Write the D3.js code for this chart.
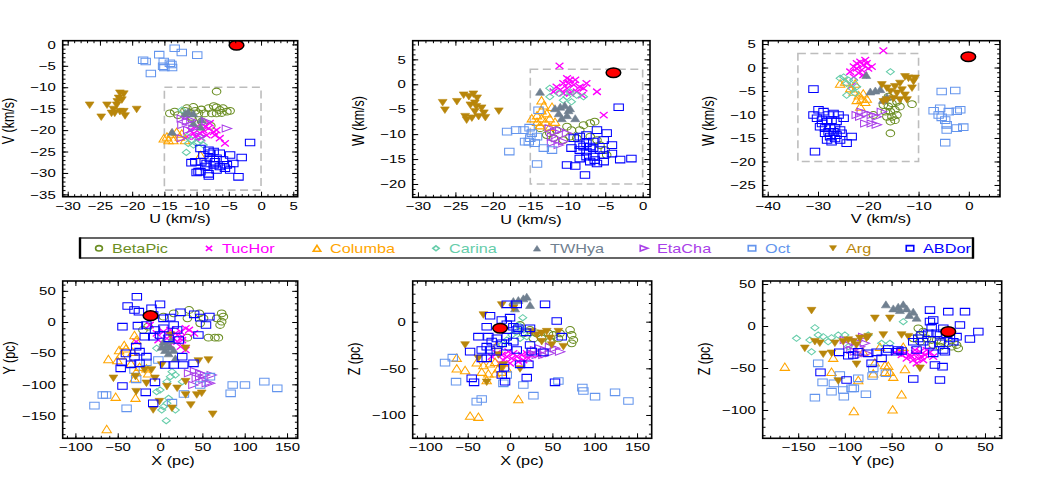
<!DOCTYPE html>
<html><head><meta charset="utf-8">
<script src="https://cdn.jsdelivr.net/npm/d3@7"></script>
<style>body{margin:0;background:#fff;} text{font-family:"Liberation Sans",Arial,Helvetica,sans-serif;}</style>
</head><body>
<svg id="c" width="1044" height="480"></svg>
<script>
// ---------- groups ----------
const groups = ["BetaPic","TucHor","Columba","Carina","TWHya","EtaCha","Oct","Arg","ABDor"];
const groupColors = ["#6b8e23","#ff00ff","#ffa500","#66cdaa","#708090","#a940e8","#6495ed","#b8860b","#0000ff"];
const groupShapes = ["circle","cross","triUp","diamond","triUpFill","triRight","square","triDownFill","square"];

// ---------- U,V (km/s) ----------
const uvData = {
 BetaPic:[[-6.9,-11.0],[-14.15,-16.1],[-13.4,-15.7],[-11.8,-15.5],[-11.0,-16.0],[-10.2,-15.5],[-9.25,-15.2],[-8.15,-14.9],[-7.35,-14.4],[-6.9,-14.7],[-6.4,-15.3],[-5.9,-14.9],[-7.65,-16.1],[-6.9,-16.1],[-6.1,-16.0],[-5.3,-15.7],[-4.8,-15.5],[-10.8,-16.9],[-8.75,-16.1],[-9.7,-16.1],[-12.9,-16.5],[-11.5,-14.9],[-10.5,-14.6],[-9.2,-18.0],[-7.8,-19.0],[-10.7,-17.5]],
 TucHor:[[-8.95,-20.0],[-8.15,-19.6],[-7.35,-20.4],[-9.4,-20.8],[-8.45,-21.2],[-6.9,-20.0],[-10.0,-19.2],[-10.5,-20.8],[-11.0,-20.0],[-7.95,-18.4],[-11.5,-21.5],[-6.4,-21.9],[-5.6,-23.1],[-9.25,-21.9],[-7.15,-21.2],[-10.2,-21.5],[-8.65,-19.2]],
 Columba:[[-14.6,-21.5],[-13.9,-20.8],[-13.1,-20.4],[-14.35,-22.3],[-13.6,-22.3],[-12.6,-21.5],[-12.3,-20.8],[-15.1,-21.9],[-11.8,-22.3],[-9.4,-25.8]],
 Carina:[[-11.5,-21.5],[-10.8,-22.3],[-10.0,-23.1],[-9.4,-22.3],[-10.5,-23.5],[-11.3,-23.1],[-8.95,-23.5],[-12.3,-15.3],[-11.6,-25.2]],
 TWHya:[[-10.5,-16.1],[-9.25,-17.5],[-9.4,-19.2],[-11.8,-16.1],[-13.8,-20.4],[-11.3,-15.7],[-10.5,-18.4]],
 EtaCha:[[-12.3,-17.3],[-11.5,-18.0],[-10.8,-17.7],[-12.2,-18.8],[-11.3,-20.0],[-10.5,-19.6],[-9.4,-21.5],[-5.3,-19.6],[-8.45,-18.0],[-12.3,-21.9]],
 Oct:[[-13.4,-0.9],[-12.3,-1.9],[-15.8,-2.4],[-9.9,-2.5],[-18.3,-3.7],[-17.9,-4.0],[-15.1,-4.0],[-14.15,-4.4],[-15.2,-5.1],[-13.9,-4.7],[-15.0,-5.4],[-13.8,-5.4],[-17.1,-6.8]],
 Arg:[[-26.6,-14.2],[-23.9,-14.2],[-21.9,-11.4],[-21.3,-11.6],[-22.1,-12.6],[-22.3,-13.4],[-22.4,-14.2],[-23.2,-16.1],[-22.7,-16.1],[-21.9,-15.7],[-21.3,-15.7],[-21.1,-16.7],[-24.8,-17.0],[-19.3,-15.2],[-22.9,-15.2],[-21.6,-13.0]],
 ABDor:[[-9.4,-24.3],[-8.15,-24.7],[-7.35,-25.0],[-6.4,-25.4],[-4.8,-25.8],[-3.0,-26.4],[-8.95,-25.8],[-7.95,-26.6],[-6.9,-26.6],[-5.9,-27.0],[-4.3,-27.8],[-10.2,-27.4],[-9.25,-27.4],[-8.45,-27.8],[-7.35,-28.1],[-6.4,-28.5],[-5.3,-28.1],[-9.4,-29.7],[-8.15,-30.2],[-6.9,-29.3],[-5.6,-28.9],[-4.8,-29.3],[-3.5,-30.9],[-1.7,-22.9],[-10.8,-27.6],[-9.7,-29.7],[-7.95,-25.4],[-7.15,-27.4],[-8.65,-28.5],[-10.0,-29.9],[-8.1,-30.7]]
};
const sunUV = [-3.8,-0.2];

// ---------- U,W (km/s) ----------
const uwData = {
 BetaPic:[[-13.7,-8.8],[-12.4,-9.8],[-11.5,-9.2],[-10.1,-8.5],[-9.5,-9.2],[-8.4,-9.2],[-7.9,-8.2],[-7.0,-7.8],[-6.4,-7.5],[-9.7,-10.5],[-8.8,-10.8],[-7.0,-10.5],[-6.1,-11.2],[-5.7,-12.2],[-5.0,-13.2],[-4.8,-14.2],[-10.6,-11.2],[-11.9,-10.8],[-12.8,-10.2]],
 TucHor:[[-11.1,3.7],[-10.1,1.2],[-9.7,0.9],[-10.6,0.2],[-9.2,-0.1],[-8.4,-0.5],[-7.9,-0.8],[-10.1,-0.8],[-11.0,-1.1],[-11.5,-0.5],[-7.5,0.2],[-8.8,-1.5],[-9.7,-1.8],[-10.6,-1.8],[-6.1,-1.5],[-9.9,0.2],[-9.0,0.9],[-5.2,-6.2],[-11.9,-1.5],[-8.1,-2.2]],
 Columba:[[-13.5,-3.2],[-13.2,-4.2],[-13.5,-5.2],[-14.1,-6.2],[-13.5,-6.8],[-14.8,-6.8],[-14.1,-7.5],[-13.0,-7.5],[-12.4,-6.8],[-12.4,-8.5],[-12.8,-5.8],[-12.1,-4.5],[-13.7,-8.2],[-11.7,-7.5]],
 Carina:[[-12.4,-0.8],[-11.2,-1.8],[-10.1,-2.5],[-8.8,-2.2],[-7.9,-2.5],[-10.6,-3.2],[-9.5,-3.5],[-12.4,-2.5],[-9.7,-1.5]],
 TWHya:[[-13.7,-1.5],[-11.7,-4.8],[-11.0,-4.5],[-10.4,-4.2],[-9.9,-5.2],[-11.2,-5.8],[-10.1,-6.2],[-9.0,-6.8],[-10.8,-6.8],[-9.7,-4.8]],
 EtaCha:[[-12.4,-8.8],[-11.7,-9.5],[-11.0,-9.2],[-12.1,-10.5],[-11.5,-10.8],[-12.1,-11.8],[-11.2,-12.2],[-10.6,-11.5],[-10.1,-9.8]],
 Oct:[[-18.1,-9.5],[-16.9,-9.2],[-15.9,-9.2],[-15.1,-8.7],[-14.8,-9.8],[-15.0,-10.8],[-14.1,-10.5],[-15.7,-11.5],[-13.2,-12.8],[-12.1,-13.2],[-14.4,-11.8],[-17.8,-13.5],[-14.1,-16.0],[-13.9,-5.2],[-15.2,-11.5]],
 Arg:[[-26.7,-3.7],[-26.4,-5.2],[-24.8,-3.5],[-23.9,-2.2],[-23.2,-2.5],[-22.6,-2.0],[-22.1,-2.8],[-22.4,-3.8],[-23.0,-4.2],[-22.2,-4.5],[-21.5,-4.8],[-21.2,-5.8],[-21.9,-6.5],[-22.8,-6.8],[-23.5,-7.2],[-23.7,-6.5],[-21.0,-6.7],[-22.4,-5.5],[-19.2,-5.4]],
 ABDor:[[-9.2,-10.8],[-8.4,-10.5],[-7.5,-10.2],[-6.1,-9.2],[-4.8,-9.8],[-8.4,-12.2],[-7.5,-11.8],[-6.6,-11.5],[-5.2,-11.2],[-9.5,-12.8],[-8.4,-13.2],[-7.5,-13.5],[-6.6,-12.8],[-5.7,-13.2],[-4.1,-12.2],[-7.5,-14.5],[-6.6,-14.5],[-5.2,-14.2],[-4.1,-13.9],[-8.4,-14.9],[-10.1,-16.2],[-9.0,-16.4],[-7.0,-15.5],[-6.1,-15.9],[-5.2,-15.5],[-7.7,-18.2],[-3.0,-15.1],[-1.5,-14.9],[-3.2,-4.6],[-7.9,-12.5],[-7.0,-12.5],[-6.4,-15.2]]
};
const sunUW = [-3.9,2.3];

// ---------- V,W (km/s) ----------
const vwData = {
 BetaPic:[[-17.0,-8.0],[-16.0,-8.3],[-15.3,-7.6],[-14.3,-7.3],[-16.6,-9.4],[-15.6,-9.4],[-14.7,-9.0],[-16.3,-10.5],[-15.3,-10.5],[-14.3,-10.1],[-15.6,-11.5],[-14.7,-11.2],[-11.3,-7.8],[-15.6,-14.0],[-19.0,-10.1],[-13.7,-8.3],[-16.0,-6.2]],
 TucHor:[[-17.0,3.6],[-22.3,0.9],[-21.6,1.2],[-21.0,0.5],[-20.3,0.9],[-22.3,-0.2],[-21.3,-0.5],[-20.0,-0.2],[-22.9,0.2],[-20.6,1.6],[-19.3,0.2],[-21.9,-1.2],[-21.0,-1.6],[-23.6,-0.9],[-22.9,-2.0],[-23.3,-3.9]],
 Columba:[[-25.6,-3.4],[-24.6,-3.0],[-23.6,-4.4],[-22.9,-5.1],[-21.9,-5.9],[-21.3,-6.6],[-22.3,-6.9],[-20.6,-7.3],[-21.6,-8.3],[-22.6,-3.4],[-21.0,-5.5],[-20.3,-6.6]],
 Carina:[[-25.6,-2.3],[-24.9,-2.0],[-23.9,-2.7],[-24.3,-3.4],[-23.3,-4.4],[-22.3,-4.1],[-22.6,-5.5],[-24.3,-5.9],[-15.6,-0.9],[-22.9,-2.7]],
 TWHya:[[-20.4,-1.6],[-19.6,-5.1],[-18.6,-4.9],[-17.6,-4.6],[-17.1,-6.9],[-16.3,-6.2]],
 EtaCha:[[-22.3,-10.1],[-21.3,-9.4],[-20.3,-9.8],[-19.3,-10.1],[-18.3,-10.5],[-17.3,-9.4],[-19.3,-11.9],[-18.3,-12.2],[-20.6,-11.9],[-21.6,-10.5]],
 Oct:[[-5.4,-5.1],[-2.7,-4.9],[-7.0,-9.2],[-5.7,-8.7],[-4.0,-9.4],[-2.4,-9.3],[-6.0,-10.1],[-4.7,-11.2],[-4.4,-12.2],[-2.4,-12.9],[-1.1,-12.7],[-4.4,-13.3],[-4.7,-16.0],[-5.4,-10.6],[-1.7,-9.0]],
 Arg:[[-17.3,-3.7],[-16.3,-4.4],[-15.6,-5.1],[-14.7,-4.1],[-13.7,-3.4],[-12.7,-2.0],[-12.0,-2.3],[-11.0,-3.0],[-11.3,-4.4],[-13.3,-4.8],[-12.7,-5.9],[-13.7,-6.9],[-16.3,-6.9],[-15.0,-6.6],[-12.3,-6.9],[-14.3,-5.5],[-10.7,-2.3],[-17.0,-7.3]],
 ABDor:[[-30.9,-4.6],[-30.6,-17.9],[-30.9,-10.1],[-29.9,-9.0],[-28.9,-9.4],[-27.9,-10.1],[-26.9,-9.8],[-25.9,-10.1],[-24.9,-10.8],[-30.2,-10.8],[-29.2,-11.2],[-28.2,-11.5],[-27.3,-11.2],[-26.3,-11.5],[-29.6,-12.6],[-28.6,-12.9],[-27.6,-12.6],[-26.6,-12.9],[-25.6,-13.3],[-28.6,-14.0],[-27.6,-14.7],[-26.6,-15.1],[-25.6,-15.4],[-28.2,-15.4],[-27.3,-15.8],[-24.3,-16.1],[-23.3,-14.7],[-29.2,-11.9],[-27.9,-13.7],[-26.9,-13.7],[-26.3,-14.4],[-25.3,-14.0]]
};
const sunVW = [-0.1,2.3];

// ---------- X,Y (pc) ----------
const xyData = {
 BetaPic:[[34.3,19.3],[46.4,13.9],[51.4,5.9],[66.9,5.9],[72.8,13.9],[74.8,8.6],[72.8,0.5],[70.9,-4.8],[57.1,-25.1],[64.9,-25.1],[68.9,-25.1],[32.3,-25.1],[4.0,8.6],[16.1,13.9],[47.4,-2.1],[32.3,5.9],[-14.1,-7.5],[-20.2,-12.8]],
 TucHor:[[-28.2,-31.6],[-4.0,-18.2],[4.0,-15.5],[12.1,-12.8],[18.1,-18.2],[24.2,-15.5],[30.2,-10.2],[34.3,-12.8],[16.1,-26.2],[26.2,-23.5],[8.1,-26.2],[20.2,-31.6],[30.2,-44.9],[24.2,-39.6],[-2.0,-28.9],[-12.1,-4.8],[40.3,-18.2],[12.1,-36.9],[26.2,-28.9]],
 Columba:[[-30.2,-20.9],[-28.2,-28.9],[-42.3,-36.9],[-48.4,-44.9],[-46.4,-52.9],[-40.3,-42.2],[-32.3,-47.6],[-61.0,-59.4],[-50.4,-61.0],[-34.3,-66.3],[-28.2,-79.7],[-30.2,-90.4],[-14.1,-82.4],[-52.4,-119.8],[-29.0,-121.4],[-63.0,-171.7],[-24.2,-71.7],[-16.1,-74.3]],
 Carina:[[-4.0,-42.2],[14.1,-79.7],[18.1,-85.0],[12.1,-87.7],[8.1,-95.7],[0,-109.1],[10.1,-122.5],[8.1,-130.5],[4.0,-135.8],[2.0,-141.2],[18.1,-141.2],[7.3,-158.3],[-4.0,-111.8],[26.2,-95.7]],
 TWHya:[[4.0,-31.6],[8.1,-36.9],[12.1,-39.6],[6.0,-44.9],[10.1,-50.3],[16.1,-44.9],[2.0,-39.6],[18.1,-58.3],[12.9,-28.9]],
 EtaCha:[[34.3,-82.4],[41.3,-78.6],[47.4,-82.4],[53.1,-85.0],[43.4,-90.4],[51.4,-93.0],[55.2,-98.4],[59.0,-98.4],[39.4,-101.1],[47.4,-87.7],[61.0,-85.0]],
 Oct:[[-77.5,-134.2],[-67.7,-117.1],[-63.7,-117.1],[-39.5,-138.5],[-2.0,-61.0],[14.1,-129.4],[28.2,-115.5],[47.4,-101.1],[59.0,-87.7],[85.8,-101.1],[100.3,-101.1],[123.2,-95.7],[138.5,-106.4],[83.4,-114.4],[-30.2,-77.0],[-28.2,-92.0],[-16.1,-64.7]],
 Arg:[[-55.1,-90.4],[-29.0,-87.7],[-18.1,-77.0],[-10.1,-77.0],[2.0,-69.0],[8.1,-103.7],[20.2,-106.4],[30.2,-95.7],[45.3,-62.6],[57.1,-61.0],[30.2,-117.1],[43.4,-117.1],[49.2,-114.4],[36.3,-133.2],[14.1,-138.5],[-8.1,-141.2],[-28.2,-111.8],[-0.8,-127.8],[62.2,-148.1],[30.2,-42.2],[12.1,-20.9],[-16.1,-98.4],[-6.0,-90.4]],
 ABDor:[[-27.4,40.6],[-38.3,25.7],[-30.2,19.3],[-25.0,16.6],[-10.1,21.9],[0,28.3],[-8.1,11.2],[4.0,5.9],[12.1,7.0],[24.2,15.5],[40.3,12.3],[47.4,7.0],[58.3,8.6],[54.3,-4.8],[45.3,-20.9],[-44.4,-7.5],[-26.2,-5.9],[-16.1,-4.8],[-6.0,-12.8],[4.0,-10.2],[16.1,-4.8],[20.2,-12.8],[-8.1,-23.5],[0,-20.9],[10.1,-26.2],[22.2,-28.9],[-28.2,-39.6],[-40.3,-50.3],[-30.2,-55.6],[-16.1,-55.6],[-24.2,-66.3],[-34.3,-67.9],[-45.3,-64.7],[-46.5,-74.3],[6.0,-69.0],[16.1,-69.0],[27.4,-69.0],[39.5,-66.3],[-44.4,-102.7],[-16.9,-112.8],[-6.0,-96.8],[-8.1,-130.5],[26.2,-55.6],[-24.2,-47.6],[-18.1,-23.5]]
};
const sunXY = [-11.3,10.2];

// ---------- X,Z (pc) ----------
const xzData = {
 BetaPic:[[23.6,-8.9],[31.5,-12.5],[37.4,-17.9],[45.3,-12.5],[51.2,-14.3],[59.1,-12.5],[70.9,-8.9],[72.8,-14.3],[74.8,-19.6],[72.8,-23.2],[57.1,-17.9],[47.2,-21.4],[27.6,-17.9],[15.7,-12.5],[11.8,-3.6]],
 TucHor:[[-15.7,-33.9],[-9.8,-35.7],[-3.9,-37.5],[2.0,-39.3],[7.9,-37.5],[13.8,-35.7],[19.7,-33.9],[25.6,-35.7],[3.9,-33.9],[9.8,-42.9],[0,-44.6],[15.7,-41.1],[-7.9,-41.1],[-11.8,-44.6],[21.7,-39.3],[-2.0,-32.1],[-21.7,-37.5],[33.5,-35.7]],
 Columba:[[-63.0,-38.6],[-63.0,-50.0],[-53.1,-51.8],[-39.4,-43.6],[-31.5,-46.4],[-23.6,-44.6],[-17.7,-42.9],[-13.8,-50.0],[-33.5,-53.6],[-25.6,-55.4],[-17.7,-55.4],[-9.8,-53.6],[-3.9,-50.0],[-27.6,-62.5],[-47.2,-100.7],[-37.4,-101.8],[9.8,-82.9],[-15.7,-25.0]],
 Carina:[[15.0,4.3],[9.8,-3.6],[7.9,-10.7],[15.7,-8.9],[2.0,-14.3],[-3.9,-19.6],[-9.8,-25.0],[11.8,-17.9],[19.7,-16.1]],
 TWHya:[[3.9,22.1],[9.8,23.2],[15.7,25.0],[19.7,26.8],[5.9,14.3],[23.6,17.9]],
 EtaCha:[[29.5,-30.4],[35.4,-28.6],[41.3,-30.4],[47.2,-26.8],[53.1,-28.6],[59.1,-32.1],[39.4,-35.7],[31.5,-35.7],[47.2,-33.9],[25.6,-33.9]],
 Oct:[[-76.8,-43.9],[-67.7,-38.6],[-63.8,-64.3],[-39.4,-85.7],[-33.5,-82.9],[-3.9,-57.1],[-7.9,-66.1],[15.7,-67.9],[27.6,-79.3],[57.1,-63.6],[85.4,-70.7],[86.6,-74.3],[100.4,-80.4],[124.0,-75.7],[139.8,-85.0]],
 Arg:[[-9.8,17.9],[3.9,14.3],[-31.5,7.1],[25.6,-10.7],[31.5,-14.3],[37.4,-12.5],[43.3,-10.7],[57.1,-10.7],[47.2,-17.9],[63.0,-26.8],[-53.1,-25.0],[-37.4,-39.3],[-13.8,-35.7],[-7.9,-46.4],[11.8,-50.7],[-27.6,-65.0],[-9.8,-50.0],[37.4,-21.4],[49.2,-25.0]],
 ABDor:[[-3.9,18.6],[7.9,18.6],[41.3,18.6],[-23.6,6.4],[-9.8,1.8],[0,4.3],[-3.9,-2.9],[3.9,-5.4],[9.8,-7.1],[-27.6,-5.4],[-37.4,-16.1],[-25.6,-16.1],[-15.7,-17.9],[-3.9,-16.1],[7.9,-8.9],[18.9,-11.4],[23.6,-7.1],[55.1,0.7],[61.0,-16.1],[23.6,-25.0],[3.9,-21.4],[-3.9,-26.8],[-27.6,-26.8],[-33.5,-30.4],[-23.6,-30.4],[-47.2,-32.1],[-15.7,-32.1],[7.9,-30.4],[25.6,-32.1],[39.4,-32.9],[11.8,-45.7],[21.7,-45.7],[-7.1,-49.3],[-9.8,-57.1],[-5.9,-64.3],[19.7,-60.0],[-45.3,-60.7],[-42.5,-65.0],[53.1,-65.0],[-33.5,-39.3],[-27.6,-39.3],[-9.8,-23.2],[-21.7,-21.4]]
};
const sunXZ = [-11.8,-7.1];

// ---------- Y,Z (pc) ----------
const yzData = {
 BetaPic:[[-21.4,-2.8],[-19.6,-10.7],[-16.1,-6.7],[-12.5,-14.7],[-7.1,-16.7],[-1.8,-16.7],[3.6,-18.7],[10.7,-20.6],[19.6,-22.6],[21.4,-26.6],[-19.6,-18.7],[-26.8,-14.7],[-5.4,-22.6],[14.3,-24.6],[1.8,-24.6]],
 TucHor:[[-41.1,-30.6],[-35.7,-32.5],[-30.4,-34.5],[-25.0,-32.5],[-19.6,-30.6],[-14.3,-34.5],[-8.9,-31.3],[-33.9,-38.5],[-26.8,-40.5],[-21.4,-38.5],[-16.1,-40.5],[-23.2,-44.4],[-28.6,-36.5],[-17.9,-36.5],[-39.3,-34.5],[-25.0,-28.6],[-5.4,-36.5],[-12.5,-28.6],[-46.4,-31.3]],
 Columba:[[-164.3,-48.4],[-114.3,-54.4],[-112.5,-37.7],[-85.7,-64.3],[-67.9,-43.3],[-69.6,-56.3],[-57.1,-46.4],[-53.6,-47.2],[-51.8,-54.4],[-48.2,-60.3],[-35.7,-51.2],[-39.3,-81.3],[-48.9,-99.2],[-90.4,-101.2],[-62.5,-24.6],[-80.4,-30.6],[-37.5,-24.6],[-57.1,-54.4]],
 Carina:[[-151.8,-14.7],[-132.1,-2.0],[-137.5,-16.7],[-135.7,-30.6],[-128.6,-10.7],[-123.2,-12.7],[-114.3,-13.9],[-107.1,-10.7],[-100.0,-10.7],[-96.4,-24.6],[-75.0,-10.7],[-60.7,-20.6],[-51.8,-20.6],[-37.5,5.2],[-117.9,-18.7]],
 TWHya:[[-56.1,25.8],[-48.2,21.0],[-42.9,23.0],[-37.5,25.8],[-33.9,21.0],[-31.1,13.1],[-23.2,9.9],[-41.1,19.0],[-26.8,17.1]],
 EtaCha:[[-100.0,-16.7],[-96.4,-22.6],[-92.9,-28.6],[-87.5,-18.7],[-83.9,-24.6],[-80.4,-12.7],[-83.9,-34.5],[-76.8,-32.5],[-78.6,-20.6],[-89.3,-30.6]],
 Oct:[[-132.1,-85.3],[-128.6,-44.4],[-123.9,-67.1],[-111.8,-68.3],[-114.3,-78.2],[-101.8,-76.2],[-101.1,-84.1],[-92.9,-74.2],[-90.4,-74.2],[-85.7,-62.3],[-77.5,-81.3],[-70.4,-59.5],[-56.1,-56.3],[-69.6,-50.4],[-105.4,-58.3]],
 Arg:[[-135.7,18.3],[-132.1,-18.7],[-126.8,-20.6],[-142.9,-26.6],[-123.2,-33.7],[-114.3,-32.5],[-110.7,-20.6],[-101.8,-18.7],[-96.4,-16.7],[-91.1,-18.7],[-83.9,-14.7],[-75.0,-12.7],[-67.9,9.1],[-58.9,-10.7],[-51.8,9.1],[-39.3,-10.7],[-32.1,-12.7],[-87.5,-45.6],[-107.1,-65.5],[-19.6,-50.4],[-76.8,-14.7],[-87.5,-22.6]],
 ABDor:[[-126.1,-55.2],[-106.1,-31.3],[-98.2,-64.3],[-96.4,-35.3],[-91.1,-34.5],[-85.7,-30.6],[-75.0,-32.5],[-66.1,-31.3],[-60.7,-38.5],[-55.4,-30.6],[-53.6,-27.4],[-44.6,-30.6],[-42.9,-28.6],[-39.3,-29.8],[-26.8,-63.1],[-23.2,-28.6],[-17.9,-10.7],[-16.1,-18.7],[-10.7,-8.7],[-8.9,5.2],[-5.4,7.1],[-7.1,-2.0],[-1.8,-8.7],[1.8,-10.7],[5.4,-2.8],[8.9,-9.9],[10.7,17.1],[12.5,-14.7],[16.1,-18.7],[19.6,-12.7],[23.2,1.2],[28.6,17.1],[33.9,-15.5],[42.9,-6.7],[-5.4,-32.5],[-3.6,-46.4],[4.6,-48.4],[1.8,-64.3],[5.4,-28.6],[-8.9,-22.6],[-21.4,-14.7],[-26.8,-18.7],[1.8,-20.6],[7.1,-30.6],[-71.4,-44.4],[-8.9,19.0]]
};
const sunYZ = [10.7,-6.7];

// ---------- axis titles ----------
const xTitles = ["U (km/s)","U (km/s)","V (km/s)","X (pc)","X (pc)","Y (pc)"];
const yTitles = ["V (km/s)","W (km/s)","W (km/s)","Y (pc)","Z (pc)","Z (pc)"];

// ---------- layout ----------
const SX = 1.3; // horizontal stretch of the original rendering
const panels = [
 {data:uvData, sun:sunUV, x0:62.7,x1:297.7,y0:40.7,y1:196.7, xd:[-30.78,5.69], yd:[0.86,-35.54], xs:5,xm:1, ys:5,ym:1, box:[-15,0,-10,-34], xtx:180, ytx:14, yty:121},
 {data:uwData, sun:sunUW, x0:412.7,x1:650,y0:40.7,y1:197.3, xd:[-30.7,0.98], yd:[8.74,-22.67], xs:5,xm:1, ys:5,ym:1, box:[-15,0,3,-20], xtx:531, ytx:364, yty:121},
 {data:vwData, sun:sunVW, x0:762.7,x1:1000,y0:40.7,y1:196.7, xd:[-41.0,6.2], yd:[5.71,-27.5], xs:10,xm:2, ys:5,ym:1, box:[-34,-10,3,-20], xtx:881, ytx:714, yty:121},
 {data:xyData, sun:sunXY, x0:62.7,x1:297.7,y0:281,y1:438.3, xd:[-115,162.6], yd:[65.8,-186.6], xs:50,xm:10, ys:50,ym:10, box:null, xtx:173, ytx:14.5, yty:358},
 {data:xzData, sun:sunXZ, x0:412.7,x1:651.7,y0:281,y1:438.3, xd:[-115,167.3], yd:[43.6,-125], xs:50,xm:10, ys:50,ym:10, box:null, xtx:522, ytx:360, yty:359},
 {data:yzData, sun:sunYZ, x0:762.7,x1:1001.7,y0:281,y1:438.3, xd:[-188,67.9], yd:[53.6,-133.7], xs:50,xm:10, ys:50,ym:10, box:null, xtx:873, ytx:710, yty:359}
];

const svg = d3.select("#c");

function shapePath(type, sx, sy){
  switch(type){
    case "circle": return `M${-sx},0A${sx},${sy} 0 1,0 ${sx},0A${sx},${sy} 0 1,0 ${-sx},0Z`;
    case "cross": return `M${-sx},${-sy}L${sx},${sy}M${-sx},${sy}L${sx},${-sy}`;
    case "triUp": case "triUpFill": return `M0,${-sy}L${sx},${sy}L${-sx},${sy}Z`;
    case "diamond": return `M0,${-sy}L${sx},0L0,${sy}L${-sx},0Z`;
    case "triRight": return `M${sx},0L${-sx},${-sy}L${-sx},${sy}Z`;
    case "square": return `M${-sx},${-sy}H${sx}V${sy}H${-sx}Z`;
    case "triDownFill": return `M0,${sy}L${sx},${-sy}L${-sx},${-sy}Z`;
  }
}
const shapeSize = {circle:[4.3,3.4],cross:[3.9,3.1],triUp:[4.7,3.7],diamond:[4.0,3.1],triUpFill:[4.5,3.5],triRight:[4.7,3.5],square:[4.7,3.3],triDownFill:[4.4,3.3]};
function styleMarker(sel, i, k){
  const t = groupShapes[i], c = groupColors[i];
  const filled = t==="triUpFill"||t==="triDownFill";
  const [sx,sy] = shapeSize[t];
  sel.attr("d", shapePath(t, sx*k, sy*k))
     .attr("fill", filled? c : "none")
     .attr("stroke", c)
     .attr("stroke-width", filled? 0.6 : (t==="cross"?1.35:1.05))
     .attr("stroke-linejoin","miter");
}

function stepTicks(d, step){
  const lo = Math.min(d[0],d[1]), hi = Math.max(d[0],d[1]);
  return d3.range(Math.ceil(lo/step-1e-9)*step, hi+1e-9, step).map(v=>+v.toFixed(6));
}

panels.forEach((p, pi)=>{
  const x = d3.scaleLinear().domain(p.xd).range([p.x0,p.x1]);
  const y = d3.scaleLinear().domain(p.yd).range([p.y0,p.y1]);
  const g = svg.append("g");
  const cid = "clip"+pi;
  g.append("clipPath").attr("id",cid).append("rect")
    .attr("x",p.x0).attr("y",p.y0).attr("width",p.x1-p.x0).attr("height",p.y1-p.y0);
  const plot = g.append("g").attr("clip-path",`url(#${cid})`);

  if(p.box){
    plot.append("rect")
      .attr("x", x(p.box[0])).attr("y", y(p.box[2]))
      .attr("width", x(p.box[1])-x(p.box[0])).attr("height", y(p.box[3])-y(p.box[2]))
      .attr("fill","none").attr("stroke","#bdbdbd").attr("stroke-width",1.6).attr("stroke-dasharray","8,4.5");
  }
  groups.forEach((gn, i)=>{
    plot.append("g").selectAll("path").data(p.data[gn]||[]).join("path")
      .attr("transform", d=>`translate(${x(d[0])},${y(d[1])})`)
      .call(styleMarker, i, 1);
  });
  plot.append("ellipse").attr("cx",x(p.sun[0])).attr("cy",y(p.sun[1]))
    .attr("rx",7.3).attr("ry",4.8).attr("fill","#ff0000").attr("stroke","#000").attr("stroke-width",1.5);

  // axes (ticks inward on all four sides)
  const xmaj = stepTicks(p.xd,p.xs), xmin = stepTicks(p.xd,p.xm);
  const ymaj = stepTicks(p.yd,p.ys), ymin = stepTicks(p.yd,p.ym);
  const fmt = d3.format("d");
  const axes = [
    [d3.axisBottom(x), `translate(0,${p.y1})`, xmaj, xmin, true],
    [d3.axisTop(x), `translate(0,${p.y0})`, xmaj, xmin, false],
    [d3.axisLeft(y), `translate(${p.x0},0)`, ymaj, ymin, true],
    [d3.axisRight(y), `translate(${p.x1},0)`, ymaj, ymin, false]
  ];
  axes.forEach(([ax, tr, maj, mn, lab], ai)=>{
    const vertical = ai>=2;
    const ga = g.append("g").attr("transform",tr)
      .call(ax.tickValues(mn).tickSize(vertical?-2.8:-2.5).tickFormat(""));
    ga.select(".domain").remove();
    ga.selectAll("line").attr("stroke","#000").attr("stroke-width",1);
    const gb = g.append("g").attr("transform",tr)
      .call(ax.tickValues(maj).tickSize(vertical?-5.5:-5).tickPadding(vertical?7:5).tickFormat(lab?fmt:""));
    gb.select(".domain").remove();
    gb.selectAll("line").attr("stroke","#000").attr("stroke-width",1);
    gb.selectAll("text").attr("font-size",11.5).attr("fill","#000")
      .attr("font-family",'"Liberation Sans",Arial,sans-serif');
    if(lab){
      if(vertical){
        gb.selectAll("text").attr("x",-7/SX).attr("transform",`scale(${SX},1)`);
      } else {
        gb.selectAll("text").attr("transform",`scale(${SX},1)`);
      }
    }
  });
  g.append("rect").attr("x",p.x0).attr("y",p.y0).attr("width",p.x1-p.x0).attr("height",p.y1-p.y0)
    .attr("fill","none").attr("stroke","#000").attr("stroke-width",1.6);

  // titles
  g.append("text").attr("transform",`translate(${p.xtx},${p.y1+26.3}) scale(${SX},1)`)
    .attr("text-anchor","middle").attr("font-size",12.5).attr("fill","#000").text(xTitles[pi]);
  g.append("text").attr("transform",`translate(${p.ytx},${p.yty}) rotate(-90) scale(1,${SX})`)
    .attr("text-anchor","middle").attr("font-size",12.5).attr("fill","#000").text(yTitles[pi]);
});

// ---------- legend ----------
const legendX = [99,209,317,436,537,644,752,833,910];
const lg = svg.append("g");
lg.append("rect").attr("x",80).attr("y",238).attr("width",893).attr("height",20)
  .attr("fill","#fff").attr("stroke","#000").attr("stroke-width",1.2);
lg.append("line").attr("x1",80).attr("x2",80).attr("y1",237.4).attr("y2",258.6).attr("stroke","#000").attr("stroke-width",2.4);
lg.append("line").attr("x1",973).attr("x2",973).attr("y1",237.4).attr("y2",258.6).attr("stroke","#000").attr("stroke-width",2.4);
groups.forEach((gn,i)=>{
  lg.append("path").attr("transform",`translate(${legendX[i]},248.3)`).call(styleMarker,i,0.8)
    .attr("stroke-width", groupShapes[i]==="triUpFill"||groupShapes[i]==="triDownFill"?0.6:1.6);
  lg.append("text").attr("transform",`translate(${legendX[i]+13},253.3) scale(${SX},1)`)
    .attr("font-size",12.5).attr("fill",groupColors[i]).text(gn);
});
</script>
</body></html>
